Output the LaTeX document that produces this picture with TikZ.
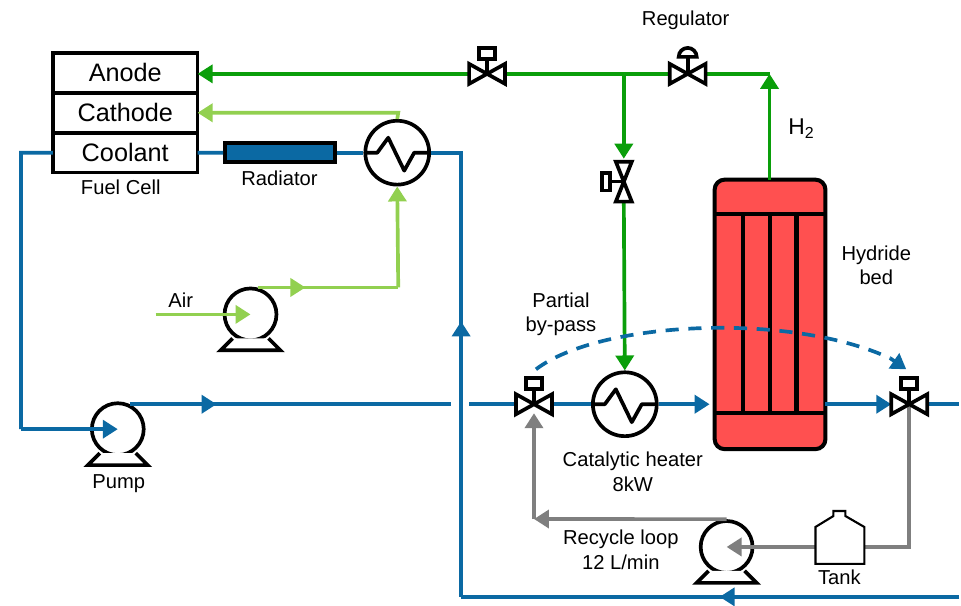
\documentclass[tikz,border=0pt]{standalone}
\usepackage{fontspec}
\setmainfont{Liberation Sans}
\usepackage{tikz}
\usetikzlibrary{positioning,arrows.meta}
\usetikzlibrary{calc}
\definecolor{coolblue}{HTML}{0B69A3}
\definecolor{hydgreen}{HTML}{0A9E0A}
\definecolor{airgreen}{HTML}{92D050}
\definecolor{loopgray}{HTML}{7F7F7F}
\definecolor{bedred}{HTML}{FF5050}

\begin{document}
\begin{tikzpicture}[
    x=0.02cm, y=-0.02cm,
    >={Triangle[length=0.3cm,width=0.36cm]},
    pipe/.style={line width=2.1pt},
    coolant/.style={pipe, coolblue},
    hydrogen/.style={pipe, hydgreen},
    air/.style={pipe, airgreen},
    recycle/.style={pipe, loopgray},
    part/.style={draw, line width=2.1pt, fill=white, minimum width=2.9cm, minimum height=0.8cm, inner sep=0pt, outer sep=0pt, font=\fontsize{14.4}{16}\selectfont},
    lbl/.style={font=\fontsize{11.5}{14}\selectfont, align=center, inner sep=0pt, yshift=-1pt},
    pumpbody/.style={circle, draw, line width=2.1pt, fill=white, inner sep=0pt, minimum size=1.04cm},
    hx/.style={circle, draw, line width=2.1pt, fill=white, inner sep=0pt, minimum size=1.28cm},
    port/.style={inner sep=0pt, minimum size=0pt},
    sym/.style={draw=black, line width=2.1pt, line join=miter},
    zigzag/.pic={\draw[line width=2.1pt, line join=round] (-32,0) -- (-20,0) -- (-9,-15) -- (7,18) -- (17,0) -- (32,0);},
    pumpfoot/.pic={\draw[sym, fill=white] (-18,24) -- (-30,36) -- (30,36) -- (18,24);},
    valveh/.pic={\draw[sym, fill=white] (0,0) -- (-18,-10) -- (-18,10) -- cycle (0,0) -- (18,-10) -- (18,10) -- cycle;},
    valvev/.pic={\draw[sym, fill=white] (0,0) -- (-8,-20) -- (8,-20) -- cycle (0,0) -- (-8,20) -- (8,20) -- cycle;}
]

  % fuel cell
  \node[part] (an) at (125.5,73) {Anode};
  \node[part, below=0pt of an] (ca) {Cathode};
  \node[part, below=0pt of ca] (co) {Coolant};
  \node[lbl] (fc) at (121,186) {Fuel Cell};

  % apparecchi
  \node[draw, line width=2.1pt, fill=coolblue, minimum width=2.2cm, minimum height=0.38cm, inner sep=0pt] (rad) at (280.5,153) {};
  \node[lbl] (radl) at (280,177) {Radiator};
  \node[hx] (fchx) at (398,153) {};
  \node[pumpbody] (apump) at (251,315) {};
  \node[pumpbody] (cpump) at (118,430) {};
  \node[pumpbody] (rpump) at (728,548) {};
  \node[hx] (heat) at (626,405) {};

  % letto a idruri
  \draw[line width=2.3pt, fill=bedred, rounded corners=0.2cm] (716,180) rectangle (827,450);
  \draw[line width=2.3pt] (716,214) -- (827,214) (716,414) -- (827,414)
    (744,214) -- (744,414) (771,214) -- (771,414) (798,214) -- (798,414);
  \coordinate (bedtop) at (771,180);
  \coordinate (bedin) at (711,405);
  \coordinate (bedout) at (827,405);

  % valvole
  \node[port] (v1) at (488,74) {};
  \node[port] (reg) at (689,74) {};
  \node[port] (v2) at (625,182) {};
  \node[port] (v3) at (535,405) {};
  \node[port] (v4) at (911,405) {};
  \node[port] (tank) at (841,537) {};

  % punti liberi
  \coordinate (htop) at (771,74);
  \coordinate (tee) at (625,74);
  \coordinate (v2in) at (625,159);
  \coordinate (v2out) at (625,202);
  \coordinate (v3in) at (535,414);
  \coordinate (v4in) at (893,405);
  \coordinate (cleft) at (21,153);
  \coordinate (cdown) at (21,430);
  \coordinate (cright) at (462,153);
  \coordinate (cbot) at (462,598);
  \coordinate (cend) at (961,598);
  \coordinate (cmark) at (721,598);
  \coordinate (cup) at (462,322);
  \coordinate (cout) at (130,405);
  \coordinate (cflow) at (217,405);
  \coordinate (cmid) at (452,405);
  \coordinate (cmid2) at (470,405);
  \coordinate (vout) at (961,405);
  \coordinate (airin) at (156,315);
  \coordinate (aout) at (258,288);
  \coordinate (aflow) at (306,288);
  \coordinate (acor) at (399,288);
  \coordinate (cacor) at (399,113);
  \coordinate (rloop) at (911,548);
  \coordinate (lcor) at (535,520);
  \coordinate (dashs) at (537,370);
  \coordinate (dashm) at (892,359);
  \coordinate (dashe) at (908,370);

  % idrogeno
  \draw[hydrogen, ->] (v1) -- (an.east |- v1);
  \draw[hydrogen] (v1) -- (reg);
  \draw[hydrogen] (reg) -- (htop);
  \draw[hydrogen, ->] (bedtop) -- (htop);
  \draw[hydrogen, ->] (tee) -- (v2in);
  \draw[hydrogen, ->] (v2out) -- (heat.north);

  % aria
  \draw[air, ->] (fchx.north) -- (cacor) -- (ca.east);
  \draw[air, ->] (acor) -- (fchx.south);
  \draw[air] (aout) -- (acor);
  \draw[air, ->] (aout) -- (aflow);
  \draw[air, ->] (airin) -- (apump.center);

  % refrigerante
  \draw[coolant] (co.west) -- (cleft) -- (cdown);
  \draw[coolant, ->] (cdown) -- (cpump.center);
  \draw[coolant] (co.east) -- (rad);
  \draw[coolant] (rad) -- (fchx);
  \draw[coolant] (fchx) -- (cright) -- (cbot);
  \draw[coolant, ->] (cbot) -- (cup);
  \draw[coolant] (cend) -- (cbot);
  \draw[coolant, ->] (cend) -- (cmark);
  \draw[coolant] (cout) -- (cmid);
  \draw[coolant, ->] (cout) -- (cflow);
  \draw[coolant] (cmid2) -- (v3);
  \draw[coolant] (v3) -- (heat);
  \draw[coolant, ->] (heat) -- (bedin);
  \draw[coolant, ->] (bedout) -- (v4in);
  \draw[coolant] (v4) -- (vout);
  \draw[coolant, dash pattern=on 7.5pt off 5.5pt] (dashs) .. controls (600,322) and (790,312) .. (dashm);
  \draw[coolant, ->] (dashm) -- (dashe);

  % ricircolo
  \draw[recycle, ->] (lcor) -- (v3in);
  \draw[recycle, ->] (rpump.north) -- (lcor);
  \draw[recycle] (v4) -- (rloop) -- (tank |- rloop);
  \draw[recycle, ->] (tank |- rloop) -- (rpump.center);

  % simboli sopra le linee
  \pic at (apump) {pumpfoot};
  \pic at (cpump) {pumpfoot};
  \pic at (rpump) {pumpfoot};
  \pic at (fchx) {zigzag};
  \pic at (heat) {zigzag};

  \pic at (v1) {valveh};
  \pic at (reg) {valveh};
  \pic at (v3) {valveh};
  \pic at (v4) {valveh};
  \pic at (v2) {valvev};
  \foreach \v in {v1,v3,v4} {
    \draw[sym] (\v) -- ++(0,-15);
    \draw[sym, fill=white] ($(\v)+(-8,-26)$) rectangle ($(\v)+(8,-15)$);
  }
  \draw[sym] (reg) -- ++(0,-17);
  \draw[sym] ($(reg)+(-9,-17)$) -- ($(reg)+(9,-17)$) arc (0:-180:9) -- cycle;
  \draw[sym] (v2) -- ++(-14,0);
  \draw[sym, fill=white] ($(v2)+(-22,-9)$) rectangle ($(v2)+(-14,9)$);

  % serbatoio
  \draw[sym, line width=1.2pt, fill=white] (817,565) -- (817,528) -- (835,517) -- (835,512) -- (847,512) -- (847,517) -- (866,528) -- (866,565) -- cycle;

  % etichette
  \node[lbl] (regl) at (687,19) {Regulator};
  \node[lbl, font=\fontsize{13}{15}\selectfont] (h2) at (803,127) {H\textsubscript{2}};
  \node[lbl] (bedl) at (878,264) {Hydride\\bed};
  \node[lbl] (bypass) at (562,313) {Partial\\by-pass};
  \node[lbl] (airl) at (181,299) {Air};
  \node[lbl] (pumpl) at (119,483) {Pump};
  \node[lbl] (heatl) at (634,471) {Catalytic heater\\8kW};
  \node[lbl] (loopl) at (622,549) {Recycle loop\\12 L/min};
  \node[lbl] (tankl) at (841,577) {Tank};

  \useasboundingbox (0,0) rectangle (961,606);
\end{tikzpicture}
\end{document}
